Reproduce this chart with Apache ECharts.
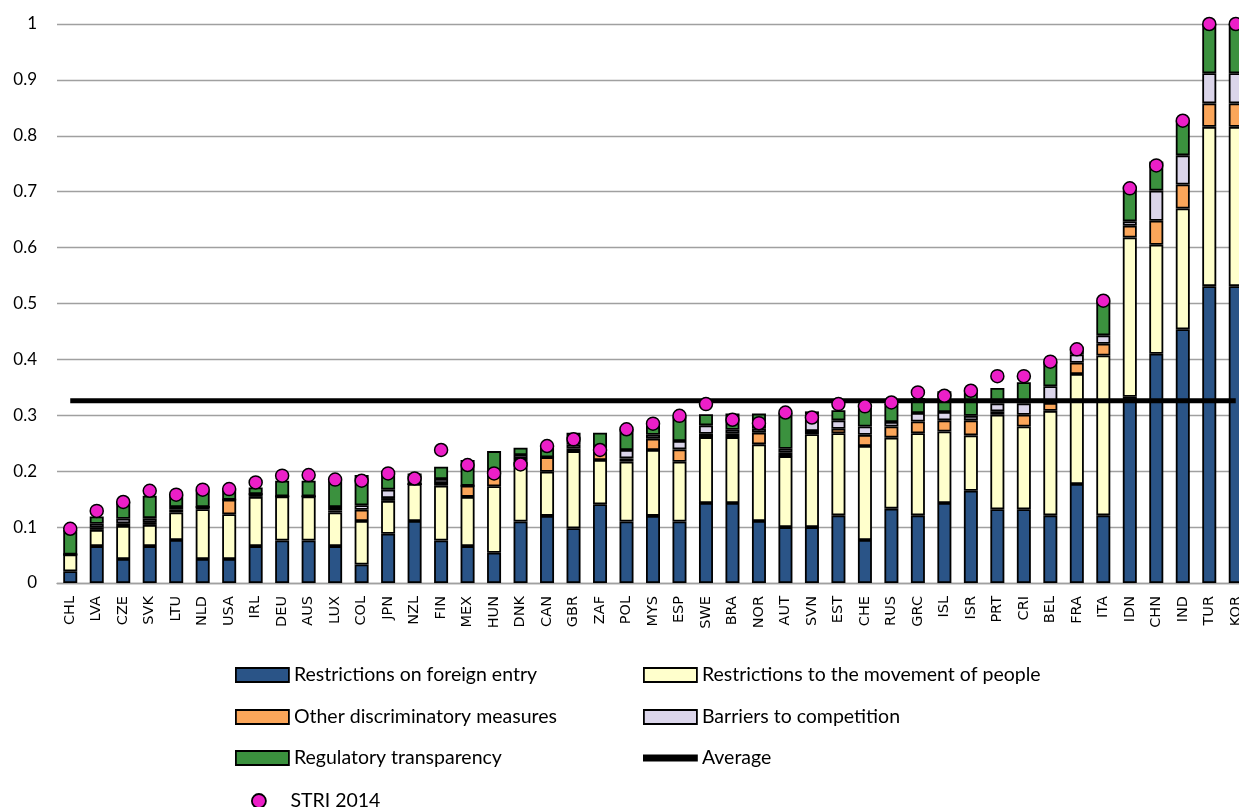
<!DOCTYPE html>
<html>
<head>
<meta charset="utf-8">
<script src="https://cdn.jsdelivr.net/npm/echarts@6/dist/echarts.min.js"></script>
<style>
  html, body { margin: 0; padding: 0; background: #fff; }
  #chart { width: 1239px; height: 807px; }
</style>
</head>
<body>
<div id="chart"></div>
<script>
// country codes along the x axis
const countries = ['CHL', 'LVA', 'CZE', 'SVK', 'LTU', 'NLD', 'USA', 'IRL', 'DEU', 'AUS', 'LUX', 'COL', 'JPN', 'NZL', 'FIN',
  'MEX', 'HUN', 'DNK', 'CAN', 'GBR', 'ZAF', 'POL', 'MYS', 'ESP', 'SWE', 'BRA', 'NOR', 'AUT', 'SVN', 'EST',
  'CHE', 'RUS', 'GRC', 'ISL', 'ISR', 'PRT', 'CRI', 'BEL', 'FRA', 'ITA', 'IDN', 'CHN', 'IND', 'TUR', 'KOR']

const foreignEntry = [0.021, 0.066, 0.043, 0.066, 0.077, 0.043, 0.043, 0.066, 0.076, 0.076, 0.066, 0.033, 0.088, 0.111, 0.076,
  0.066, 0.054, 0.110, 0.120, 0.098, 0.141, 0.110, 0.120, 0.110, 0.143, 0.143, 0.111, 0.100, 0.100, 0.121,
  0.077, 0.133, 0.121, 0.143, 0.165, 0.132, 0.132, 0.121, 0.177, 0.121, 0.333, 0.410, 0.454, 0.531, 0.531]
const movement = [0.030, 0.029, 0.059, 0.038, 0.049, 0.089, 0.080, 0.088, 0.079, 0.079, 0.060, 0.078, 0.059, 0.066, 0.098,
  0.088, 0.119, 0.107, 0.079, 0.138, 0.079, 0.107, 0.118, 0.107, 0.118, 0.118, 0.137, 0.127, 0.166, 0.147,
  0.168, 0.127, 0.147, 0.128, 0.099, 0.169, 0.148, 0.187, 0.197, 0.286, 0.285, 0.195, 0.216, 0.285, 0.285]
const otherDiscrim = [0, 0.004, 0.005, 0.005, 0.005, 0.004, 0.026, 0.005, 0, 0, 0.004, 0.020, 0.005, 0, 0.005,
  0.020, 0.019, 0.005, 0.026, 0.005, 0.017, 0.006, 0.020, 0.022, 0.006, 0.006, 0.021, 0.006, 0.006, 0.008,
  0.020, 0.020, 0.021, 0.020, 0.027, 0.006, 0.021, 0.014, 0.020, 0.021, 0.021, 0.043, 0.043, 0.042, 0.042]
const barriers = [0, 0.007, 0.008, 0.007, 0.005, 0, 0, 0, 0, 0, 0.006, 0.008, 0.015, 0, 0.007,
  0, 0, 0.007, 0, 0.007, 0, 0.015, 0.007, 0.015, 0.015, 0.007, 0.007, 0.007, 0.030, 0.015,
  0.015, 0.008, 0.015, 0.015, 0.008, 0.014, 0.020, 0.030, 0.015, 0.015, 0.008, 0.054, 0.052, 0.054, 0.054]
const transparency = [0.044, 0.013, 0.030, 0.040, 0.022, 0.030, 0.018, 0.012, 0.028, 0.028, 0.048, 0.054, 0.028, 0.019, 0.022,
  0.046, 0.044, 0.013, 0.020, 0.021, 0.032, 0.038, 0.021, 0.044, 0.020, 0.029, 0.027, 0.064, 0.005, 0.018,
  0.036, 0.032, 0.027, 0.037, 0.044, 0.028, 0.038, 0.044, 0.009, 0.061, 0.061, 0.052, 0.062, 0.088, 0.088]
const stri2014 = [0.097, 0.129, 0.145, 0.165, 0.158, 0.167, 0.168, 0.180, 0.192, 0.193, 0.185, 0.183, 0.196, 0.187, 0.238,
  0.211, 0.196, 0.212, 0.245, 0.257, 0.238, 0.275, 0.285, 0.299, 0.320, 0.292, 0.286, 0.305, 0.296, 0.320,
  0.316, 0.323, 0.341, 0.335, 0.344, 0.370, 0.370, 0.396, 0.418, 0.505, 0.706, 0.747, 0.827, 1.0, 1.0]
const averageValue = 0.326
const yTicks = [0, 0.1, 0.2, 0.3, 0.4, 0.5, 0.6, 0.7, 0.8, 0.9, 1]

const font = 'Lato, "Open Sans", sans-serif'

function barSeries(name, data, color) {
  return {
    name,
    type: 'bar',
    stack: 'stri',
    data,
    barWidth: 14,
    itemStyle: { color, borderColor: '#000', borderWidth: 1.8 },
    z: 2
  }
}

// one legend block per row, two columns like the original
function legendRow(left, top, names) {
  return {
    orient: 'horizontal',
    left,
    top,
    padding: 0,
    itemWidth: 53,
    itemHeight: 14,
    icon: 'rect',
    itemStyle: { borderColor: '#000', borderWidth: 1.8 },
    textStyle: { fontFamily: font, fontSize: 19.5, color: '#000' },
    data: names
  }
}

const chart = echarts.init(document.getElementById('chart'))

const option = {
  animation: false,
  textStyle: { fontFamily: font },
  grid: { left: 57, top: 24, width: 1192, height: 559, outerBoundsMode: 'none', containLabel: false },
  legend: [
    legendRow(235, 665, ['Restrictions on foreign entry']),
    legendRow(235, 707, ['Other discriminatory measures']),
    legendRow(235, 748, ['Regulatory transparency']),
    legendRow(251, 791, [{ name: 'STRI 2014', icon: 'circle' }]),
    legendRow(643, 665, ['Restrictions to the movement of people']),
    legendRow(643, 707, ['Barriers to competition']),
    legendRow(643, 748, [{ name: 'Average', icon: 'path://M0,0 L53,0 L53,5 L0,5 Z' }])
  ],
  xAxis: {
    type: 'category',
    data: countries,
    axisLine: { lineStyle: { color: '#a0a0a0', width: 1.4 } },
    axisTick: { show: false },
    axisLabel: {
      rotate: 90,
      interval: 0,
      margin: 13,
      color: '#000',
      fontFamily: '"DejaVu Sans", sans-serif',
      fontSize: 14.5
    }
  },
  yAxis: {
    type: 'value',
    min: yTicks[0],
    max: yTicks[yTicks.length - 1],
    interval: 0.1,
    axisLine: { show: false },
    axisTick: { show: false },
    axisLabel: {
      margin: 20,
      color: '#000',
      fontSize: 17,
      formatter: v => String(Math.round(v * 10) / 10)
    },
    splitLine: { lineStyle: { color: '#a0a0a0', width: 1.4 } }
  },
  series: [
    barSeries('Restrictions on foreign entry', foreignEntry, '#2a5487'),
    barSeries('Restrictions to the movement of people', movement, '#ffffcc'),
    barSeries('Other discriminatory measures', otherDiscrim, '#fba65a'),
    barSeries('Barriers to competition', barriers, '#dbd5ea'),
    barSeries('Regulatory transparency', transparency, '#3b913e'),
    {
      name: 'Average',
      type: 'line',
      data: countries.map(() => averageValue),
      symbol: 'none',
      lineStyle: { color: '#000', width: 5 },
      itemStyle: { color: '#000' },
      z: 3
    },
    {
      name: 'STRI 2014',
      type: 'scatter',
      data: stri2014,
      symbol: 'circle',
      symbolSize: 13,
      itemStyle: { color: '#ec1fc8', borderColor: '#000', borderWidth: 1.5, opacity: 1 },
      clip: false,
      z: 4
    }
  ]
}

chart.setOption(option)
</script>
</body>
</html>
